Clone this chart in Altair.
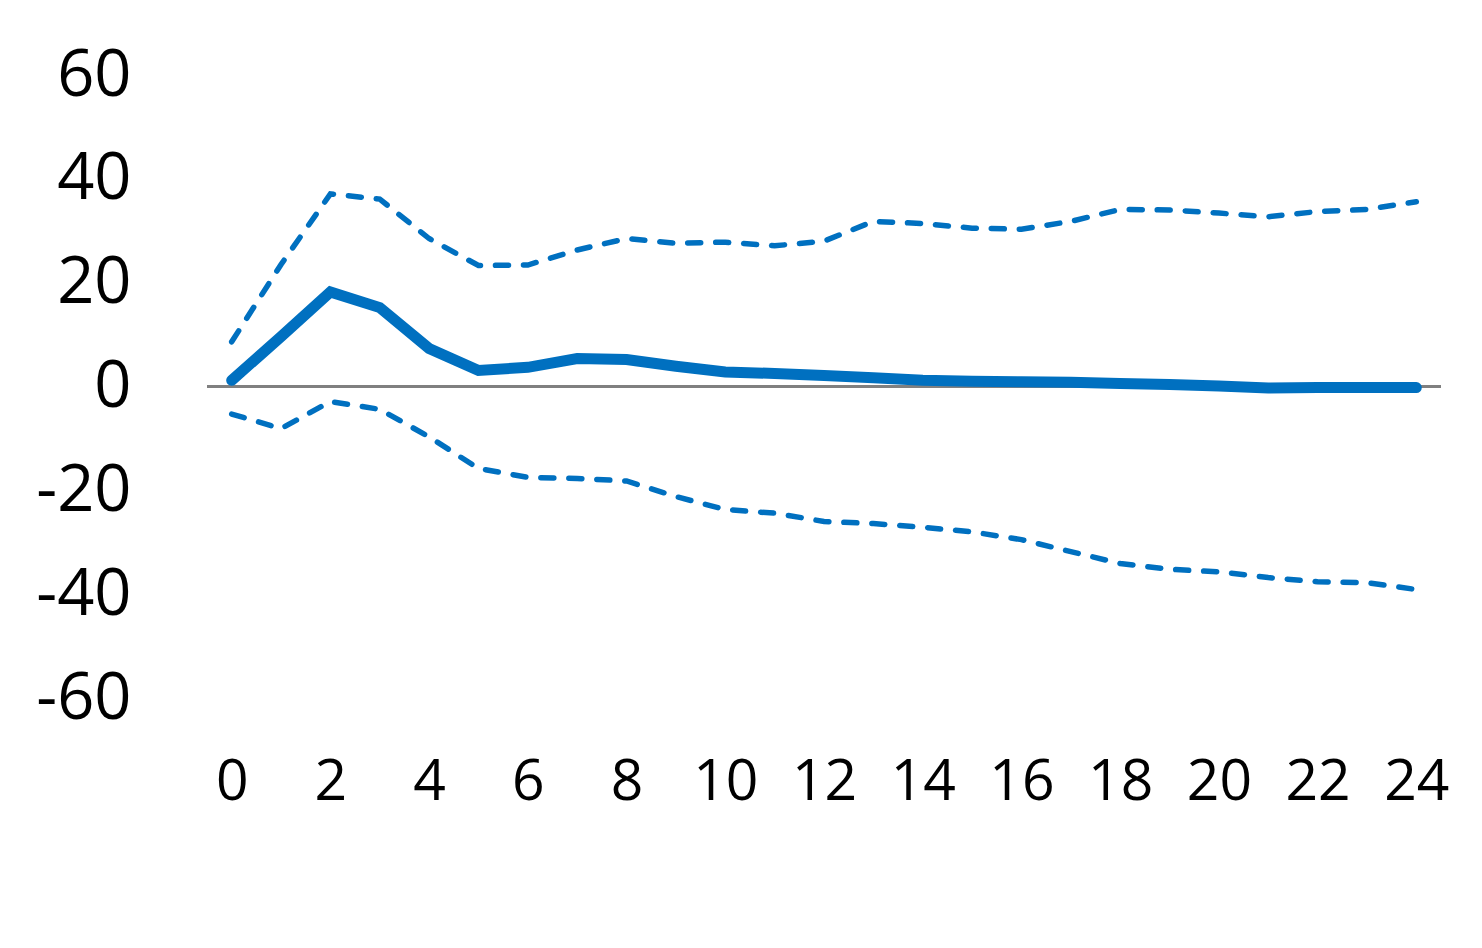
import altair as alt
import pandas as pd

horizon = list(range(25))
irf = [1.2, 9.6, 18.2, 15.2, 7.3, 3.1, 3.7, 5.4, 5.2, 3.9, 2.8, 2.5, 2.1, 1.7,
       1.2, 1.0, 0.9, 0.8, 0.6, 0.4, 0.1, -0.3, -0.2, -0.2, -0.2]
upper = [8.6, 23.5, 37.1, 36.1, 28.5, 23.3, 23.4, 26.3, 28.5, 27.6, 27.8, 27.1,
         28.0, 31.8, 31.4, 30.5, 30.3, 31.8, 34.1, 34.0, 33.4, 32.7, 33.7, 34.1, 35.6]
lower = [-5.3, -8.1, -2.9, -4.4, -9.7, -15.8, -17.5, -17.7, -18.2, -21.2, -23.7,
         -24.4, -26.0, -26.4, -27.1, -28.0, -29.5, -31.8, -34.1, -35.2, -35.7,
         -36.8, -37.6, -37.8, -39.1]
x_ticks = list(range(0, 25, 2))
y_ticks = [-60, -40, -20, 0, 20, 40, 60]

df = pd.DataFrame({"h": horizon, "irf": irf, "upper": upper, "lower": lower})

FONT = "Open Sans"
BLUE = "#0070C0"

x_enc = alt.X("h:Q",
              scale=alt.Scale(domain=[-0.5, 24.5], nice=False, zero=False),
              axis=alt.Axis(values=x_ticks, title=None, grid=False, domain=False,
                            ticks=False, labelFontSize=57, labelFont=FONT,
                            labelColor="black", labelPadding=56, labelFlush=False))
y_scale = alt.Scale(domain=[-60, 60], nice=False)
y_axis = alt.Axis(values=y_ticks, title=None, grid=False, domain=False, ticks=False,
                  labelFontSize=65, labelFont=FONT, labelColor="black",
                  labelPadding=76, labelFlush=False,
                  labelExpr="toString(datum.value)")

base = alt.Chart(df)

zero = base.mark_rule(color="#808080", strokeWidth=2).encode(
    y=alt.datum(0, scale=y_scale, axis=y_axis, type="quantitative"))

dash = [13, 15]
up = base.mark_line(color=BLUE, strokeWidth=5.5, strokeDash=dash,
                    strokeCap="round").encode(
    x=x_enc, y=alt.Y("upper:Q", scale=y_scale, axis=y_axis))
lo = base.mark_line(color=BLUE, strokeWidth=5.5, strokeDash=dash,
                    strokeCap="round").encode(
    x=x_enc, y=alt.Y("lower:Q", scale=y_scale, axis=y_axis))
mid = base.mark_line(color=BLUE, strokeWidth=11, strokeCap="round",
                     strokeJoin="miter").encode(
    x=x_enc, y=alt.Y("irf:Q", scale=y_scale, axis=y_axis))

chart = alt.layer(zero, up, lo, mid).properties(
    width=1234, height=623,
    background="white",
    autosize=alt.AutoSizeParams(type="none"),
    padding={"left": 199, "top": 67, "right": 30, "bottom": 150},
).configure_view(strokeWidth=0, stroke=None)

chart.save("out.html", embed_options={"renderer": "svg", "actions": False})
